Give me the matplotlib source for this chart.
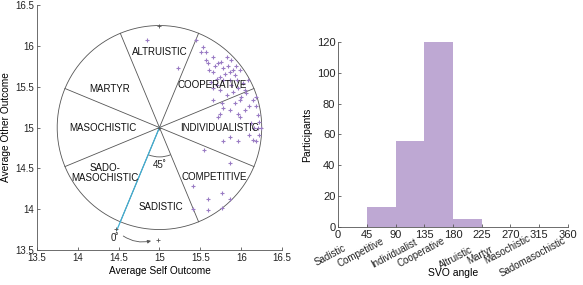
import numpy as np
import matplotlib.pyplot as plt
from matplotlib.patches import Arc

plt.rcParams['font.family'] = ['Liberation Sans', 'DejaVu Sans']

# participants' average outcomes (self, other)
self_out = [14.85, 15.23, 15.45, 15.53, 15.51, 15.57, 15.59, 15.65, 15.71, 15.82,
            15.88, 15.78, 15.65, 15.74, 15.86, 15.90, 15.94, 15.98, 15.92, 15.86,
            15.78, 15.70, 15.63, 15.65, 15.74, 15.82, 15.90, 15.96, 16.02, 16.08,
            16.06, 16.00, 16.14, 16.18, 16.10, 16.18, 16.20, 16.22, 16.24, 16.16,
            16.12, 15.98, 15.86, 15.78, 15.76, 15.71, 15.65, 15.92, 15.98, 16.04,
            15.60, 15.68, 15.75, 15.84, 15.80, 15.70, 15.88, 15.95, 16.04, 15.57,
            15.96, 15.74, 15.78, 15.96, 16.14, 16.18, 16.10, 15.86, 15.55, 15.86,
            15.41, 15.59, 15.76, 15.86, 15.59, 15.76, 15.41, 16.22, 16.20]
other_out = [16.07, 15.73, 16.07, 15.99, 15.93, 15.83, 15.79, 15.87, 15.79, 15.87,
             15.83, 15.73, 15.68, 15.62, 15.68, 15.70, 15.75, 15.70, 15.64, 15.58,
             15.58, 15.60, 15.56, 15.48, 15.46, 15.40, 15.44, 15.48, 15.54, 15.58,
             15.42, 15.38, 15.34, 15.38, 15.26, 15.26, 15.15, 15.07, 14.99, 14.99,
             15.05, 15.13, 15.21, 15.24, 15.30, 15.13, 15.34, 15.30, 15.34, 15.21,
             15.70, 15.75, 15.80, 15.75, 15.65, 15.52, 15.52, 15.58, 15.46, 15.93,
             15.17, 15.17, 14.83, 14.83, 14.85, 14.83, 14.91, 14.89, 14.73, 14.56,
             14.28, 14.13, 14.20, 14.13, 13.99, 14.01, 14.00, 14.91, 15.00]

sectors = ['INDIVIDUALISTIC', 'COOPERATIVE', 'ALTRUISTIC', 'MARTYR',
           'MASOCHISTIC', 'SADO-\nMASOCHISTIC', 'SADISTIC', 'COMPETITIVE']
label_pos = [(15.74, 14.99), (15.65, 15.52), (15.0, 15.93), (14.39, 15.47),
             (14.31, 15.0), (14.33, 14.44), (15.02, 14.03), (15.67, 14.40)]

# histogram of SVO angle
bin_edges = [0, 45, 90, 135, 180, 225, 270, 315, 360]
counts = [0, 13, 56, 120, 5, 0, 0, 0]
svo_names = ['Sadistic', 'Competitive', 'Individualist', 'Cooperative',
             'Altruistic', 'Martyr', 'Masochistic', 'Sadomasochistic']
# where each rotated name ends (right/top corner), as placed in the original
name_x = [8, 68, 119, 163, 206, 238, 297, 352]
name_y = [-10.0, -5.8, -6.5, -5.8, -11.5, -11.0, -4.0, -5.2]

purple = '#9a7cc4'
gray = '#555555'

fig = plt.figure(figsize=(5.83, 2.85), dpi=100)
ax = fig.add_axes([0.063, 0.123, 0.421, 0.859])
ax2 = fig.add_axes([0.58, 0.2035, 0.394, 0.65])

# --- circle plot ---
cx, cy, r = 15.0, 15.0, 1.25
t = np.linspace(0, 2 * np.pi, 400)
ax.plot(cx + r * np.cos(t), cy + r * np.sin(t), color=gray, lw=0.6)
for k in range(8):
    a = np.deg2rad(22.5 + 45 * k)
    ax.plot([cx, cx + r * np.cos(a)], [cy, cy + r * np.sin(a)], color=gray, lw=0.6)

a0 = np.deg2rad(247.5)
ax.plot([cx, cx + 1.36 * np.cos(a0)], [cy, cy + 1.36 * np.sin(a0)], color='#3fb0d6', lw=0.9)
ax.add_patch(Arc((cx, cy), 0.72, 0.72, theta1=247.5, theta2=292.5, color=gray, lw=0.6))
ax.text(15.0, 14.54, '45˚', fontsize=7, ha='center', va='center', color='#222222')
ax.text(14.46, 13.65, '0˚', fontsize=7, ha='center', va='center', color='#222222')
ax.annotate('', xy=(14.93, 13.62), xytext=(14.53, 13.69),
            arrowprops=dict(arrowstyle='-|>', color=gray, lw=0.6, mutation_scale=5,
                            connectionstyle='arc3,rad=0.25'))

ax.plot(self_out, other_out, '+', color=purple, ms=3, mew=0.8, ls='none')
ax.plot([15.0, 14.98, 14.47, 15.0], [16.25, 13.62, 13.76, 15.0], '+', color=gray, ms=3, mew=0.6, ls='none')

for name, (x, y) in zip(sectors, label_pos):
    ax.text(x, y, name, fontsize=7, ha='center', va='center', color='#111111',
            linespacing=1.0)

ax.set_xlim(13.5, 16.5)
ax.set_ylim(13.5, 16.5)
ax.set_xticks([13.5, 14, 14.5, 15, 15.5, 16, 16.5])
ax.set_yticks([13.5, 14, 14.5, 15, 15.5, 16, 16.5])
ax.set_xticklabels(['13.5', '14', '14.5', '15', '15.5', '16', '16.5'])
ax.set_yticklabels(['13.5', '14', '14.5', '15', '15.5', '16', '16.5'])
ax.set_xlabel('Average Self Outcome', fontsize=7.3, labelpad=2)
ax.set_ylabel('Average Other Outcome', fontsize=7.3, labelpad=3)

# --- histogram ---
ax2.stairs(counts, bin_edges, fill=True, color='#bea8d3')
ax2.set_xlim(0, 360)
ax2.set_ylim(0, 120)
ax2.set_xticks(bin_edges)
ax2.set_yticks([0, 20, 40, 60, 80, 100, 120])
ax2.set_ylabel('Participants', fontsize=7.5, labelpad=3)
ax2.set_xlabel('SVO angle', fontsize=7.5)
ax2.xaxis.set_label_coords(0.5, -0.25)
ax2.xaxis.label.set_va('center')
for name, x, y in zip(svo_names, name_x, name_y):
    ax2.text(x, y, name, fontsize=7, rotation=28, ha='right', va='top',
             rotation_mode='anchor', color='#222222')

for a in (ax, ax2):
    a.spines['top'].set_visible(False)
    a.spines['right'].set_visible(False)
    a.spines['left'].set_color(gray)
    a.spines['bottom'].set_color(gray)
    a.spines['left'].set_linewidth(0.6)
    a.spines['bottom'].set_linewidth(0.6)
    a.tick_params(direction='in', length=2.5, width=0.6, color=gray,
                  pad=2, labelcolor='#222222')
ax.tick_params(labelsize=7)
ax2.tick_params(labelsize=8)

fig.savefig('out.png', dpi=100)
